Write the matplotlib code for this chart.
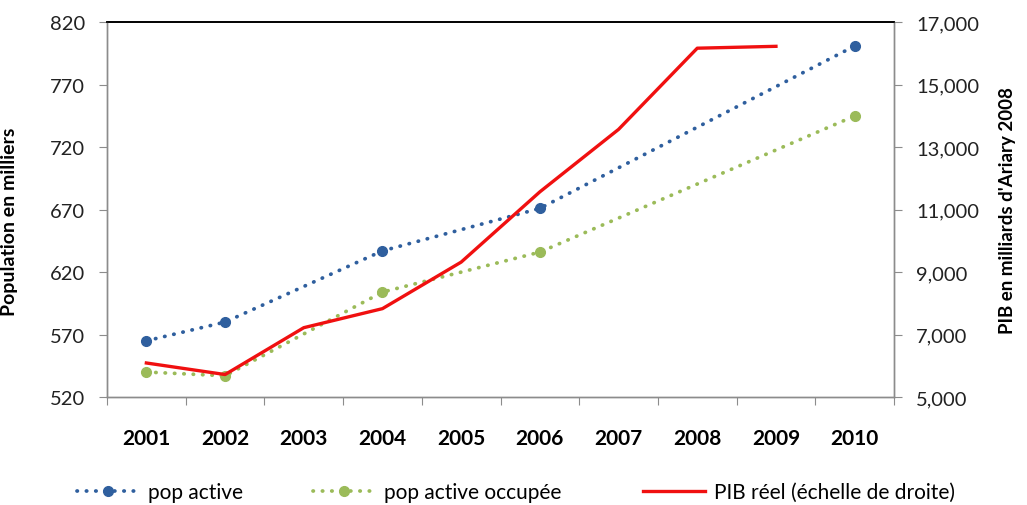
import matplotlib.pyplot as plt
import numpy as np

plt.rcParams['font.family'] = ['Lato', 'DejaVu Sans']

years = [2001, 2002, 2003, 2004, 2005, 2006, 2007, 2008, 2009, 2010]
pop_years = [2001, 2002, 2004, 2006, 2010]
pop_active = [565, 580, 637, 671, 801]
pop_occupee = [540, 537, 604, 636, 745]
pib_years = [2001, 2002, 2003, 2004, 2005, 2006, 2007, 2008, 2009]
pib = [6090, 5720, 7220, 7830, 9320, 11570, 13570, 16170, 16230]

blue = '#2F5F9E'
green = '#9BBB59'
red = '#F01010'
grey = '#8C8C8C'

fig = plt.figure(figsize=(10.27, 5.06), dpi=100)
ax = fig.add_axes([0.1042, 0.2134, 0.7663, 0.7406])
ax2 = ax.twinx()

dots = (0, (0.1, 2.4))
l1, = ax.plot(pop_years, pop_active, color=blue, lw=2.7, linestyle=dots,
              dash_capstyle='round', marker='o', markersize=7, label='pop active')
l2, = ax.plot(pop_years, pop_occupee, color=green, lw=2.7, linestyle=dots,
              dash_capstyle='round', marker='o', markersize=7, label='pop active occupée')
l3, = ax2.plot(pib_years, pib, color=red, lw=2.4, label='PIB réel (échelle de droite)')

ax.set_xlim(2000.5, 2010.5)
ax.set_ylim(520, 820)
ax.set_yticks(np.arange(520, 821, 50))
ax2.set_ylim(5000, 17000)
ax2.set_yticks(np.arange(5000, 17001, 2000))
ax2.set_yticklabels([f'{v:,}' for v in range(5000, 17001, 2000)])

# ticks sit between the years, labels in the middle
ax.set_xticks(np.arange(2000.5, 2011, 1))
ax.set_xticklabels([])
ax.set_xticks(years, minor=True)
ax.set_xticklabels([str(y) for y in years], minor=True, fontsize=15, fontweight='bold')
ax.tick_params(axis='x', which='minor', length=0, pad=22)
ax.tick_params(axis='x', which='major', length=6, color=grey, direction='out')

ax.tick_params(axis='y', length=6, color=grey, labelsize=14.5, labelcolor='#222222', pad=10)
ax2.tick_params(axis='y', length=6, color=grey, labelsize=14.5, labelcolor='#222222', pad=10)

for a in (ax, ax2):
    for s in ('left', 'right', 'bottom'):
        a.spines[s].set_color(grey)
        a.spines[s].set_linewidth(1)
    a.spines['top'].set_color('black')
    a.spines['top'].set_linewidth(1.2)

ax.set_ylabel('Population en milliers', fontsize=14, fontweight='bold', labelpad=12)
ax.yaxis.set_label_coords(-0.113, 0.47)
ax2.set_ylabel("PIB en milliards d'Ariary 2008", fontsize=13.5, fontweight='bold',
               labelpad=14)

# one legend per entry so each sits where it is in the original
for handle, x0 in [(l1, 0.075), (l2, 0.305), (l3, 0.626)]:
    fig.legend(handles=[handle], loc='center left', bbox_to_anchor=(x0, 0.025),
               frameon=False, fontsize=15, handlelength=3, handletextpad=0.4,
               numpoints=1, borderpad=0, borderaxespad=0)

fig.savefig('out.png', dpi=100)
